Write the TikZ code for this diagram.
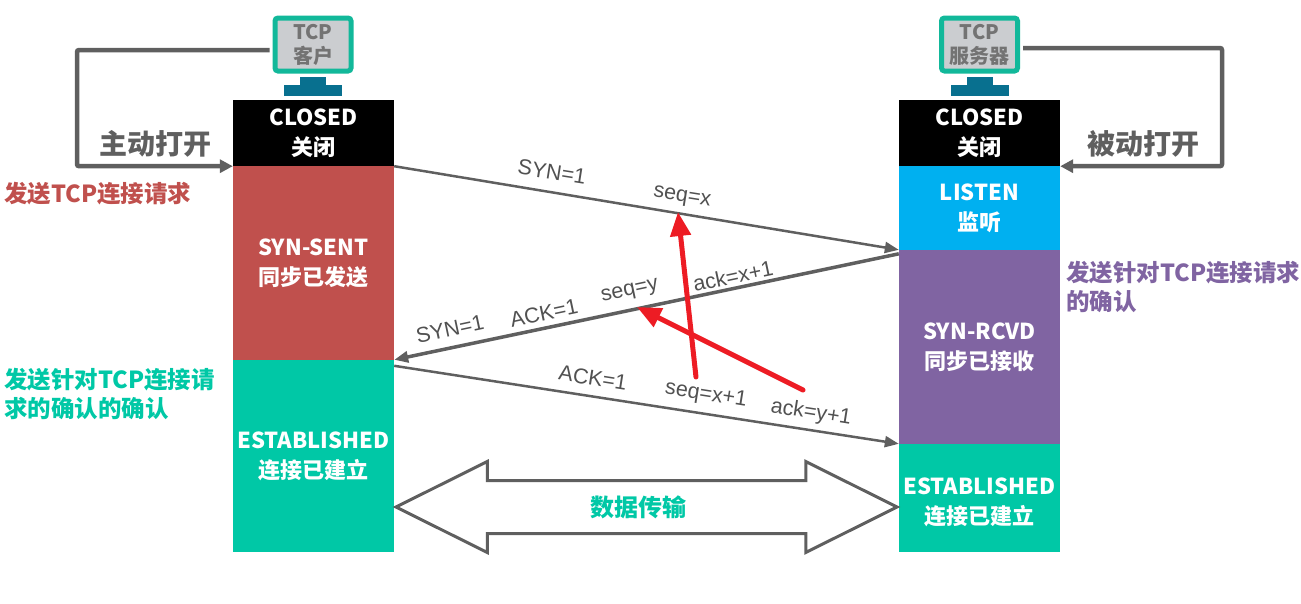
\documentclass[tikz,border=0pt]{standalone}
\usepackage{fontspec}
\setmainfont{Noto Sans CJK SC}
\newfontfamily\seqfont{Liberation Sans}
\usetikzlibrary{arrows.meta,shapes.arrows}
\definecolor{linegray}{HTML}{5F5F5F}
\definecolor{teal}{HTML}{12B89A}
\definecolor{basecol}{HTML}{08708F}
\definecolor{screen}{HTML}{CBCDD0}
\definecolor{closedcol}{HTML}{000000}
\definecolor{sentcol}{HTML}{C0504D}
\definecolor{estcol}{HTML}{00C8A6}
\definecolor{listencol}{HTML}{00B0F0}
\definecolor{rcvdcol}{HTML}{8064A2}
\definecolor{redcol}{HTML}{ED1C24}
\tikzset{
  state/.style={minimum width=161pt,inner sep=0pt,text=white,align=center,
    font=\fontsize{22}{30}\selectfont\bfseries,
    execute at begin node=\rule{0pt}{23pt}},
  monitor/.style={draw=teal,line width=5pt,fill=screen,rounded corners=3pt,
    minimum width=76pt,minimum height=53pt,inner sep=0pt,align=center,
    text=black!55,font=\fontsize{20}{24}\selectfont\bfseries},
  base/.style={fill=basecol,inner sep=0pt},
  open/.style={line width=4.5pt,draw=linegray,rounded corners=2pt,
    -{Triangle[length=13pt,width=13pt]}},
  openlabel/.style={text=linegray,font=\fontsize{28}{32}\selectfont\bfseries},
  note/.style={align=left,anchor=west,inner sep=0pt,
    font=\fontsize{23.5}{29}\selectfont\bfseries},
  msg/.style={draw=linegray,line width=2.5pt,-{Triangle[length=14pt,width=11pt]}},
  seq/.style={text=linegray!85!black,inner sep=0pt,font=\fontsize{21.5}{24}\selectfont\seqfont},
  redmark/.style={draw=redcol,line width=5pt,line cap=round,
    -{Triangle[length=24pt,width=20pt]}},
}
\begin{document}
\begin{tikzpicture}[x=1pt,y=-1pt]
  \useasboundingbox (0,0) rectangle (1301,603);
  % left column
  \node[state,fill=closedcol,minimum height=66pt] (closedL) at (313.5,133) {CLOSED\\关闭};
  \node[state,fill=sentcol,minimum height=194pt] (sentL) at (313.5,263) {SYN-SENT\\同步已发送};
  \node[state,fill=estcol,minimum height=192pt] (estL) at (313.5,456) {ESTABLISHED\\连接已建立};
  % right column
  \node[state,fill=closedcol,minimum height=66pt] (closedR) at (979.5,133) {CLOSED\\关闭};
  \node[state,fill=listencol,minimum height=84pt] (listenR) at (979.5,208) {LISTEN\\监听};
  \node[state,fill=rcvdcol,minimum height=194pt] (rcvdR) at (979.5,347) {SYN-RCVD\\同步已接收};
  \node[state,fill=estcol,minimum height=108pt] (estR) at (979.5,498) {\rule{0pt}{25pt}ESTABLISHED\\连接已建立};
  % computers
  \node[monitor] (monitorL) at (313,44.5) {TCP\\客户};
  \node[base,minimum width=26pt,minimum height=9pt] (neckL) at (313,81) {};
  \node[base,minimum width=58pt,minimum height=11pt] (footL) at (313,90.5) {};
  \node[monitor] (monitorR) at (979.5,44.5) {TCP\\服务器};
  \node[base,minimum width=26pt,minimum height=9pt] (neckR) at (979.5,81) {};
  \node[base,minimum width=58pt,minimum height=11pt] (footR) at (979.5,90.5) {};
  % open
  \coordinate (turnL) at (77,50);
  \coordinate (turnR) at (1222,48);
  \draw[open] ([yshift=-5.5pt,xshift=-3pt]monitorL.west) -- (turnL) |- (closedL.south west);
  \draw[open] ([yshift=-3.5pt,xshift=3pt]monitorR.east) -- (turnR) |- (closedR.south east);
  \node[openlabel] (activeL) at (155,144) {主动打开};
  \node[openlabel] (passiveR) at (1143,144) {被动打开};
  % notes
  \node[note,text=sentcol] (noteA) at (4,194) {发送TCP连接请求};
  \node[note,text=rcvdcol] (noteB) at (1066,286.5) {发送针对TCP连接请求\\的确认};
  \node[note,text=estcol] (noteC) at (4,393.5) {发送针对TCP连接请\\求的确认的确认};
  % messages
  \draw[msg] (closedL.south east) -- (rcvdR.north west);
  \draw[msg,line width=3.5pt] ([yshift=-4pt]rcvdR.north west) -- (estL.north east);
  \draw[msg] ([yshift=-6pt]estL.north east) -- (estR.north west);
  \node[seq,rotate=-9] (synA) at (552,172) {SYN=1};
  \node[seq,rotate=-9] (seqA) at (682,198) {seq=x};
  \node[seq,rotate=12] (synB) at (450,329) {SYN=1};
  \node[seq,rotate=12] (ackB) at (544,313) {ACK=1};
  \node[seq,rotate=12] (seqB) at (630,292) {seq=y};
  \node[seq,rotate=12] (numB) at (733,276) {ack=x+1};
  \node[seq,rotate=-9] (ackC) at (593,378) {ACK=1};
  \node[seq,rotate=-9] (seqC) at (706,395) {seq=x+1};
  \node[seq,rotate=-9] (numC) at (811,413) {ack=y+1};
  % red marks
  \coordinate (markA) at (696,377);
  \coordinate (tipA) at (678,212);
  \coordinate (markB) at (803,390);
  \coordinate (tipB) at (637,307);
  \draw[redmark] (markA) -- (tipA);
  \draw[redmark] (markB) -- (tipB);
  % data transfer
  \node[double arrow,draw=linegray,line width=3pt,fill=white,minimum height=501pt,
    double arrow head extend=19pt,inner xsep=0pt,inner ysep=25pt,
    double arrow tip angle=53] (transfer) at (646.5,507) {};
  \node[text=estcol,font=\fontsize{24}{28}\selectfont\bfseries] (transferText) at (638,507) {数据传输};
\end{tikzpicture}
\end{document}
